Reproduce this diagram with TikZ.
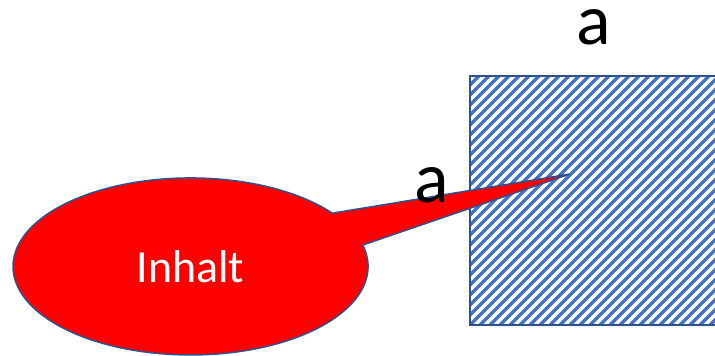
\documentclass[tikz,border=0pt]{standalone}
\usepackage{fontspec}
\setmainfont{Carlito}
\definecolor{hatchblue}{HTML}{4472C4}
\definecolor{edgeblue}{HTML}{2F528F}
\definecolor{callred}{HTML}{FF0000}
\begin{document}
\begin{tikzpicture}[x=1pt,y=1pt,
  edge/.style={draw=edgeblue,line width=1.5pt,line join=miter},
  hatchline/.style={draw=hatchblue,line width=3.4pt},
  lbl/.style={font=\fontsize{72}{72}\selectfont,text=black,anchor=base,inner sep=0pt}]
\useasboundingbox (0,0) rectangle (715,356);
% hatched square
\coordinate (sqA) at (470,31);
\coordinate (sqB) at (718,280);
\begin{scope}
  \clip (sqA) rectangle (sqB);
  \foreach \i in {-260,-250,...,720} {
    \draw[hatchline] (\i,21) -- ++(270,270);
  }
\end{scope}
\draw[edge] (sqA) rectangle (sqB);
% callout
\coordinate (tip) at (570,182);
\draw[edge,fill=callred] (332.3,142.8) arc[start angle=37,end angle=374,x radius=177.5,y radius=88.5] -- (tip) -- cycle;
\node[font=\fontsize{46}{46}\selectfont,text=white,anchor=base,inner sep=0pt] (inh) at (190.5,73) {Inhalt};
% labels
\node[lbl] (atop) at (594,311) {a};
\node[lbl] (aleft) at (432,153) {a};
\end{tikzpicture}
\end{document}
